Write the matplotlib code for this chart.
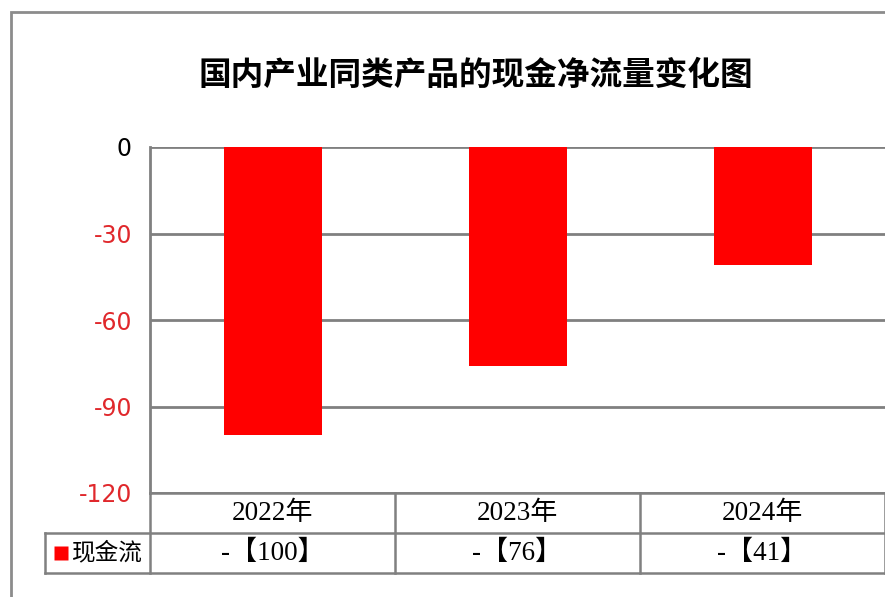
import matplotlib.pyplot as plt
from matplotlib.patches import Rectangle
from matplotlib.lines import Line2D

plt.rcParams['font.family'] = ['Liberation Serif', 'Noto Sans CJK SC', 'DejaVu Sans']

# Data
years = ['2022年', '2023年', '2024年']
cash_flow = [-100, -76, -41]
cell_labels = ['-【100】', '-【76】', '-【41】']
series_name = '现金流'
y_ticks = [0, -30, -60, -90, -120]

W, H = 885, 597
fig = plt.figure(figsize=(W / 100, H / 100), dpi=100)

# Outer frame
fig.add_artist(Rectangle((11 / W, -0.1), 1.2, 1.1 - 12 / H, transform=fig.transFigure,
                         fill=False, edgecolor='#8c8c8c', linewidth=2))

# Chart title
fig.text(476 / W, 1 - 75 / H, '国内产业同类产品的现金净流量变化图',
         ha='center', va='center', fontsize=23.5, fontweight='heavy',
         family=['Noto Sans CJK SC'])

# Main plot area
ax = fig.add_axes([150 / W, 1 - 493 / H, 735 / W, 346 / H])
x = range(len(years))
ax.bar(x, cash_flow, width=0.4, color='#ff0000', zorder=3)
ax.set_xlim(-0.5, 2.5)
ax.set_ylim(-120, 0)
ax.set_yticks(y_ticks)
ax.set_yticklabels([str(v) for v in y_ticks], family=['DejaVu Sans'], fontsize=17)
for lbl, v in zip(ax.get_yticklabels(), y_ticks):
    lbl.set_color('black' if v == 0 else '#e0282c')
ax.tick_params(axis='y', length=0, pad=13)
ax.set_xticks([])
ax.grid(axis='y', color='#808080', linewidth=2, zorder=1)
for side in ['top', 'right', 'bottom']:
    ax.spines[side].set_visible(False)
ax.spines['left'].set_color('#808080')
ax.spines['left'].set_linewidth(2)

# Data table under the chart
col_px = 245
legend_w = 105 / col_px
x0 = -0.5 - legend_w
tax = fig.add_axes([45 / W, 1 - 573 / H, 840 / W, 80 / H])
tax.set_xlim(x0, 2.5)
tax.set_ylim(0, 2)
tax.axis('off')
line_kw = dict(color='#808080', linewidth=1.8, clip_on=False)
tax.add_line(Line2D([-0.5, 2.5], [2, 2], **line_kw))
tax.add_line(Line2D([x0, 2.5], [1, 1], **line_kw))
tax.add_line(Line2D([x0, 2.5], [0, 0], **line_kw))
tax.add_line(Line2D([x0, x0], [0, 1], **line_kw))
for i in range(len(years) + 1):
    tax.add_line(Line2D([i - 0.5, i - 0.5], [0, 2], **line_kw))

for i, (yr, lab) in enumerate(zip(years, cell_labels)):
    tax.text(i, 1.5, yr, ha='center', va='center', fontsize=19.5)
    tax.text(i, 0.5, lab, ha='center', va='center', fontsize=19.5)

# Legend key in the first column
tax.plot(x0 + 15.5 / col_px, 0.5, 's', ms=10.5, color='#ff0000', mec='none', clip_on=False)
tax.text(x0 + 27 / col_px, 0.5, series_name, ha='left', va='center', fontsize=17,
         family=['Noto Sans CJK SC'])

plt.savefig('out.png', dpi=100)
